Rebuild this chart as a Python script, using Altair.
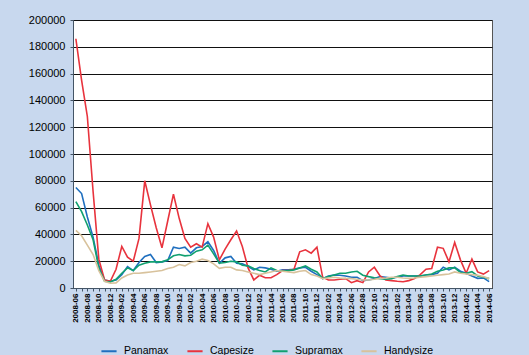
import altair as alt
import pandas as pd

# categories: monthly, 2008-06 .. 2014-06
all_months = [f"{y}-{m:02d}" for y in range(2008, 2015) for m in range(1, 13)]
months = all_months[all_months.index("2008-06"): all_months.index("2014-06") + 1]

series_names = ["Panamax", "Capesize", "Supramax", "Handysize"]
series_colors = ["#1f6fbf", "#e8333d", "#10a070", "#d8c29c"]

panamax = [75000, 70500, 53000, 38000, 17000, 6000, 5000, 6000, 10000, 16000,
           13000, 19000, 23500, 25000, 19000, 19500, 20500, 30500, 29500, 30500,
           26000, 30000, 31000, 34500, 28000, 18500, 22500, 23500, 18500, 18000,
           16000, 13500, 15500, 15000, 14000, 12500, 13500, 13500, 14000, 15000,
           15500, 12500, 10000, 7000, 9000, 9700, 9500, 9000, 8000, 8000,
           5500, 6000, 7000, 8500, 8000, 7500, 8000, 9000, 9000, 9000,
           9000, 9700, 10000, 11000, 15500, 13500, 15500, 12500, 11000, 9000,
           7200, 7500, 4700]

capesize = [186000, 155000, 128000, 72000, 21500, 6000, 5000, 14000, 31000, 23000,
            20000, 37000, 80000, 62000, 45000, 30000, 50000, 70000, 52000, 37000,
            30500, 33000, 30500, 48000, 38000, 21000, 29000, 36000, 42500, 31000,
            15000, 6000, 9500, 7700, 7700, 10000, 13000, 13000, 14000, 27000,
            28500, 26000, 30500, 8000, 6000, 6000, 6500, 7000, 4000, 5500,
            4000, 12000, 15500, 9000, 6000, 5500, 5000, 4700, 5500, 7000,
            10000, 14000, 14500, 30400, 29600, 19500, 34000, 21000, 11000, 21600,
            12000, 10400, 13000]

supramax = [64500, 57000, 47000, 36000, 15000, 5000, 4500, 6500, 11000, 15000,
            13000, 17000, 18500, 19500, 19500, 19500, 21000, 24000, 25000, 24000,
            24500, 27500, 28500, 32000, 25500, 18500, 19000, 20000, 19500, 17000,
            16500, 14500, 13000, 12000, 15000, 13000, 12700, 13000, 13500, 15000,
            16500, 14000, 12000, 7000, 8500, 9700, 11000, 11000, 12000, 12500,
            9500, 8500, 7700, 7000, 6500, 7000, 8500, 9700, 9000, 9000,
            9000, 9700, 10400, 12500, 13400, 15000, 15000, 11500, 11000, 12200,
            9000, 8000, 7000]

handysize = [43000, 39000, 32000, 25000, 13000, 5000, 3500, 3800, 7500, 9700,
             11000, 11000, 11500, 12000, 12500, 13000, 14500, 15500, 17500, 16500,
             19000, 20000, 21500, 20500, 18000, 14700, 15500, 15500, 13500, 13000,
             12000, 11000, 10000, 11000, 12000, 13000, 12500, 12000, 11500, 12500,
             13000, 10000, 9000, 7000, 7500, 8000, 7500, 7200, 7000, 6500,
             6000, 6000, 6500, 7200, 7500, 8000, 8000, 7500, 7200, 7500,
             8000, 8500, 9000, 9500, 10000, 10500, 12000, 11000, 10500, 10000,
             9500, 8500, 7000]

y_ticks = [0, 20000, 40000, 60000, 80000, 100000, 120000, 140000, 160000, 180000, 200000]

rows = []
for name, vals in zip(series_names, [panamax, capesize, supramax, handysize]):
    for m, v in zip(months, vals):
        rows.append({"month": m, "series": name, "value": v, "order": series_names.index(name)})
df = pd.DataFrame(rows)

FONT = "Liberation Sans"

chart = alt.Chart(df).mark_line(strokeWidth=1.6).encode(
    x=alt.X("month:O", sort=months,
            scale=alt.Scale(type="point", padding=0.5),
            axis=alt.Axis(title=None, labelAngle=270, labelAlign="right", labelBaseline="middle",
                          labelExpr="toNumber(substring(datum.value, 5, 7)) % 2 == 0 ? datum.value : ''",
                          labelFont=FONT, labelFontSize=8, labelFontWeight="bold",
                          labelColor="#000000", labelPadding=2, tickSize=3, tickColor="#445566",
                          domainColor="#445566", grid=False, labelOverlap=False)),
    y=alt.Y("value:Q",
            scale=alt.Scale(domain=[0, 200000], nice=False),
            axis=alt.Axis(title=None, values=y_ticks, format="d", labelFont=FONT, labelFontSize=11,
                          labelColor="#000000", tickSize=3, tickColor="#445566", labelPadding=5,
                          domainColor="#445566", grid=True, gridColor="#111111", gridWidth=1,
                          gridOpacity=1)),
    color=alt.Color("series:N",
                    scale=alt.Scale(domain=series_names, range=series_colors),
                    legend=alt.Legend(orient="none", legendX=27, legendY=322, direction="horizontal",
                                      title=None, symbolType="stroke", symbolStrokeWidth=2,
                                      symbolSize=230, labelFont=FONT, labelFontSize=10.5,
                                      labelColor="#000000", columnPadding=14, labelOffset=6,
                                      labelLimit=200, padding=0)),
    order=alt.Order("order:Q"),
).properties(
    width=419, height=268,
    padding={"left": 73, "top": 20, "right": 37, "bottom": 67},
    autosize=alt.AutoSizeParams(type="none"),
    background="#c8d8ee",
).configure_view(
    fill="#ffffff", stroke="#555555", strokeWidth=1
)

chart.save("out.html", embed_options={"renderer": "svg", "actions": False})
